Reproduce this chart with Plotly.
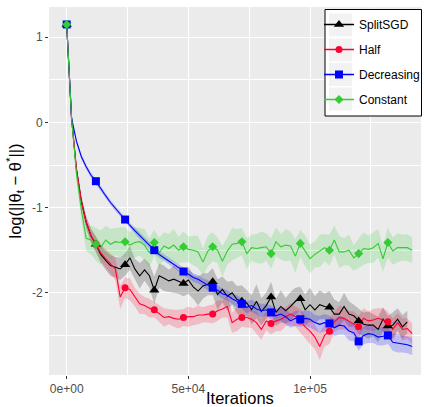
import plotly.graph_objects as go

# ---------------- data ----------------
iterations = [i * 2000 for i in range(72)]          # 0 .. 142000
iterations_split = iterations[:71]                   # 0 .. 140000

split_sgd = [1.15, 0.05, -0.55, -0.92, -1.17, -1.33, -1.43, -1.55, -1.62, -1.68,
             -1.70, -1.72, -1.67, -1.59, -1.72, -1.80, -1.73, -1.80, -1.97, -1.80,
             -1.83, -1.86, -1.84, -1.87, -1.89, -1.85, -1.93, -1.98, -1.92, -1.90,
             -1.87, -2.02, -1.96, -2.04, -2.00, -2.08, -2.10, -2.12, -2.20, -2.10,
             -2.22, -2.15, -2.05, -2.23, -2.16, -2.21, -2.16, -2.10, -2.07, -2.20,
             -2.14, -2.20, -2.14, -2.16, -2.17, -2.25, -2.25, -2.16, -2.25, -2.27,
             -2.33, -2.37, -2.38, -2.38, -2.43, -2.31, -2.39, -2.38, -2.31, -2.40,
             -2.34]
split_sgd_hw = [0.01, 0.03, 0.05, 0.06, 0.07, 0.08, 0.09, 0.10, 0.11, 0.12,
                0.12, 0.13, 0.13, 0.14, 0.12, 0.15, 0.13, 0.14, 0.16, 0.14,
                0.15, 0.13, 0.16, 0.14, 0.15, 0.16, 0.14, 0.17, 0.15, 0.13,
                0.16, 0.18, 0.15, 0.17, 0.14, 0.16, 0.19, 0.15, 0.17, 0.20,
                0.16, 0.15, 0.18, 0.16, 0.19, 0.15, 0.17, 0.16, 0.14, 0.18,
                0.20, 0.16, 0.17, 0.15, 0.19, 0.17, 0.14, 0.16, 0.15, 0.13,
                0.15, 0.14, 0.16, 0.13, 0.15, 0.14, 0.12, 0.15, 0.13, 0.14,
                0.13]

half = [1.15, 0.05, -0.55, -0.92, -1.17, -1.33, -1.43, -1.53, -1.60, -1.66,
        -1.72, -2.05, -1.94, -1.96, -2.05, -2.13, -2.15, -2.18, -2.20, -2.24,
        -2.29, -2.28, -2.30, -2.31, -2.29, -2.28, -2.28, -2.26, -2.26, -2.25,
        -2.25, -2.21, -2.19, -2.16, -2.35, -2.31, -2.29, -2.29, -2.31, -2.35,
        -2.43, -2.33, -2.36, -2.33, -2.31, -2.28, -2.25, -2.28, -2.33, -2.40,
        -2.45, -2.52, -2.63, -2.50, -2.45, -2.34, -2.29, -2.30, -2.33, -2.36,
        -2.40, -2.30, -2.33, -2.32, -2.30, -2.32, -2.34, -2.43, -2.35, -2.43,
        -2.42, -2.48]
half_hw = [0.01, 0.03, 0.05, 0.06, 0.07, 0.08, 0.09, 0.10, 0.11, 0.12,
           0.13, 0.14, 0.12, 0.13, 0.11, 0.12, 0.10, 0.11, 0.09, 0.10,
           0.11, 0.09, 0.10, 0.11, 0.10, 0.12, 0.10, 0.11, 0.09, 0.10,
           0.11, 0.12, 0.10, 0.13, 0.12, 0.14, 0.11, 0.12, 0.10, 0.13,
           0.12, 0.11, 0.13, 0.12, 0.14, 0.11, 0.13, 0.12, 0.14, 0.13,
           0.15, 0.14, 0.16, 0.13, 0.15, 0.12, 0.14, 0.13, 0.12, 0.14,
           0.13, 0.12, 0.11, 0.13, 0.12, 0.14, 0.12, 0.13, 0.11, 0.13,
           0.12, 0.12]

decreasing = [1.15, 0.05, -0.22, -0.40, -0.52, -0.62, -0.69, -0.78, -0.86, -0.94,
              -1.01, -1.08, -1.14, -1.21, -1.27, -1.33, -1.39, -1.45, -1.50, -1.55,
              -1.59, -1.63, -1.67, -1.71, -1.75, -1.78, -1.82, -1.84, -1.88, -1.91,
              -1.94, -1.97, -2.01, -2.03, -2.07, -2.10, -2.13, -2.17, -2.15, -2.19,
              -2.21, -2.20, -2.23, -2.27, -2.25, -2.28, -2.33, -2.30, -2.31, -2.30,
              -2.31, -2.35, -2.37, -2.35, -2.36, -2.41, -2.38, -2.39, -2.45, -2.47,
              -2.57, -2.50, -2.48, -2.49, -2.52, -2.51, -2.50, -2.58, -2.59, -2.60,
              -2.61, -2.63]
decreasing_hw = [0.01, 0.02, 0.03, 0.03, 0.03, 0.03, 0.03, 0.03, 0.03, 0.03,
                 0.03, 0.03, 0.03, 0.03, 0.04, 0.04, 0.04, 0.04, 0.04, 0.04,
                 0.04, 0.04, 0.05, 0.05, 0.05, 0.05, 0.05, 0.05, 0.05, 0.06,
                 0.05, 0.06, 0.06, 0.06, 0.06, 0.07, 0.06, 0.07, 0.07, 0.07,
                 0.08, 0.07, 0.08, 0.08, 0.08, 0.09, 0.08, 0.09, 0.09, 0.09,
                 0.10, 0.09, 0.10, 0.10, 0.09, 0.10, 0.11, 0.10, 0.11, 0.10,
                 0.11, 0.10, 0.11, 0.10, 0.10, 0.11, 0.10, 0.10, 0.11, 0.10,
                 0.10, 0.10]

constant = [1.15, 0.05, -0.60, -1.02, -1.36, -1.38, -1.43, -1.47, -1.38, -1.43,
            -1.40, -1.41, -1.40, -1.44, -1.41, -1.40, -1.44, -1.53, -1.41, -1.53,
            -1.45, -1.48, -1.44, -1.50, -1.46, -1.49, -1.50, -1.52, -1.64, -1.51,
            -1.46, -1.50, -1.63, -1.51, -1.43, -1.42, -1.40, -1.54, -1.47, -1.48,
            -1.47, -1.46, -1.54, -1.40, -1.46, -1.44, -1.45, -1.57, -1.42, -1.51,
            -1.60, -1.55, -1.51, -1.47, -1.50, -1.38, -1.52, -1.52, -1.50, -1.59,
            -1.54, -1.48, -1.49, -1.47, -1.42, -1.60, -1.41, -1.51, -1.47, -1.47,
            -1.47, -1.50]
constant_hw = [0.01, 0.04, 0.08, 0.12, 0.15, 0.17, 0.19, 0.20, 0.17, 0.18,
               0.16, 0.18, 0.17, 0.15, 0.18, 0.16, 0.19, 0.17, 0.15, 0.18,
               0.16, 0.17, 0.19, 0.16, 0.18, 0.15, 0.17, 0.19, 0.16, 0.18,
               0.17, 0.15, 0.18, 0.16, 0.19, 0.17, 0.16, 0.18, 0.15, 0.17,
               0.19, 0.16, 0.18, 0.17, 0.15, 0.19, 0.17, 0.20, 0.16, 0.18,
               0.17, 0.15, 0.19, 0.16, 0.18, 0.17, 0.19, 0.16, 0.18, 0.15,
               0.17, 0.19, 0.16, 0.18, 0.17, 0.15, 0.18, 0.16, 0.17, 0.15,
               0.16, 0.15]

series_names = ["SplitSGD", "Half", "Decreasing", "Constant"]
x_tick_vals = [0, 50000, 100000]
x_tick_text = ["0e+00", "5e+04", "1e+05"]
y_tick_vals = [-2, -1, 0, 1]
y_tick_text = ["-2", "-1", "0", "1"]

# ---------------- styling ----------------
series = [
    (series_names[0], iterations_split, split_sgd, split_sgd_hw, "#000000", "rgba(0,0,0,0.2)", "triangle-up", 9),
    (series_names[1], iterations, half, half_hw, "#FF0033", "rgba(255,0,51,0.2)", "circle", 7),
    (series_names[2], iterations, decreasing, decreasing_hw, "#0000FF", "rgba(0,0,255,0.2)", "square", 8),
    (series_names[3], iterations, constant, constant_hw, "#33CC33", "rgba(51,204,51,0.2)", "diamond", 7),
]
MARK_EVERY = 6

fig = go.Figure()

# ribbons
for name, xs, ys, hw, col, fillcol, sym, size in series:
    upper = [v + h for v, h in zip(ys, hw)]
    lower = [v - h for v, h in zip(ys, hw)]
    fig.add_trace(go.Scatter(
        x=xs + xs[::-1], y=upper + lower[::-1], fill="toself",
        fillcolor=fillcol, line=dict(width=0), mode="lines",
        hoverinfo="skip", showlegend=False))

# lines
for name, xs, ys, hw, col, fillcol, sym, size in series:
    fig.add_trace(go.Scatter(x=xs, y=ys, mode="lines",
                             line=dict(color=col, width=1.1),
                             showlegend=False, name=name))

# points
for name, xs, ys, hw, col, fillcol, sym, size in series:
    fig.add_trace(go.Scatter(x=xs[::MARK_EVERY], y=ys[::MARK_EVERY], mode="markers",
                             marker=dict(color=col, symbol=sym, size=size, line=dict(width=0)),
                             showlegend=False, name=name))

# legend entries
for i, (name, xs, ys, hw, col, fillcol, sym, size) in enumerate(series):
    fig.add_trace(go.Scatter(x=[None], y=[None], mode="lines+markers", name=name,
                             legendgroup=name,
                             line=dict(color=col, width=1.5),
                             marker=dict(color=col, symbol=sym, size=size)))

# plot area in pixels: x 49..421, y 7..375
def px_x(X):
    return (X - 49) / 372.0

def px_y(Y):
    return (375 - Y) / 368.0

shapes = [dict(type="rect", xref="paper", yref="paper",
               x0=px_x(325), x1=px_x(421.5), y0=px_y(116), y1=px_y(9.5),
               fillcolor="white", line=dict(color="black", width=1), layer="above")]
for c in [25, 50, 74.5, 99]:
    shapes.append(dict(type="rect", xref="paper", yref="paper",
                       x0=px_x(329), x1=px_x(352), y0=px_y(c + 11.5), y1=px_y(c - 11.5),
                       fillcolor="#F2F2F2", line=dict(width=0), layer="above"))

fig.update_layout(
    width=426, height=407,
    margin=dict(l=49, r=5, t=7, b=32, autoexpand=False),
    plot_bgcolor="#EBEBEB", paper_bgcolor="white",
    font=dict(family="Liberation Sans, Arial, sans-serif", size=12, color="black"),
    shapes=shapes,
    showlegend=True,
    legend=dict(x=px_x(319), y=px_y(10), xanchor="left", yanchor="top",
                bgcolor="rgba(0,0,0,0)", borderwidth=0,
                font=dict(size=12, color="black"), tracegroupgap=6,
                itemwidth=30),
    annotations=[dict(text="Iterations", xref="paper", yref="paper",
                      x=px_x(240), y=px_y(397.5), xanchor="center", yanchor="middle",
                      showarrow=False, font=dict(size=16.5, color="black"))],
    xaxis=dict(range=[-7275, 145620], tickmode="array", tickvals=x_tick_vals,
               ticktext=x_tick_text, showgrid=True, gridcolor="white", gridwidth=1.2,
               zeroline=False, ticks="outside", ticklen=3, tickcolor="#333333",
               tickfont=dict(size=12, color="#4D4D4D"),
               minor=dict(tickvals=[25000, 75000, 125000], showgrid=True,
                          gridcolor="white", gridwidth=0.6, ticks="")),
    yaxis=dict(range=[-2.965, 1.355], tickmode="array", tickvals=y_tick_vals,
               ticktext=y_tick_text, showgrid=True, gridcolor="white", gridwidth=1.2,
               zeroline=False, ticks="outside", ticklen=3, tickcolor="#333333",
               tickfont=dict(size=12, color="#4D4D4D"),
               title=dict(text="log(||θ<sub>t</sub> − θ<sup>*</sup>||)",
                          font=dict(size=16.5, color="black"), standoff=6),
               minor=dict(tickvals=[-2.5, -1.5, -0.5, 0.5], showgrid=True,
                          gridcolor="white", gridwidth=0.6, ticks="")),
)

fig.write_html("out.html", config={"displayModeBar": False},
               post_script="document.body.style.margin='0';document.body.style.padding='0';")
